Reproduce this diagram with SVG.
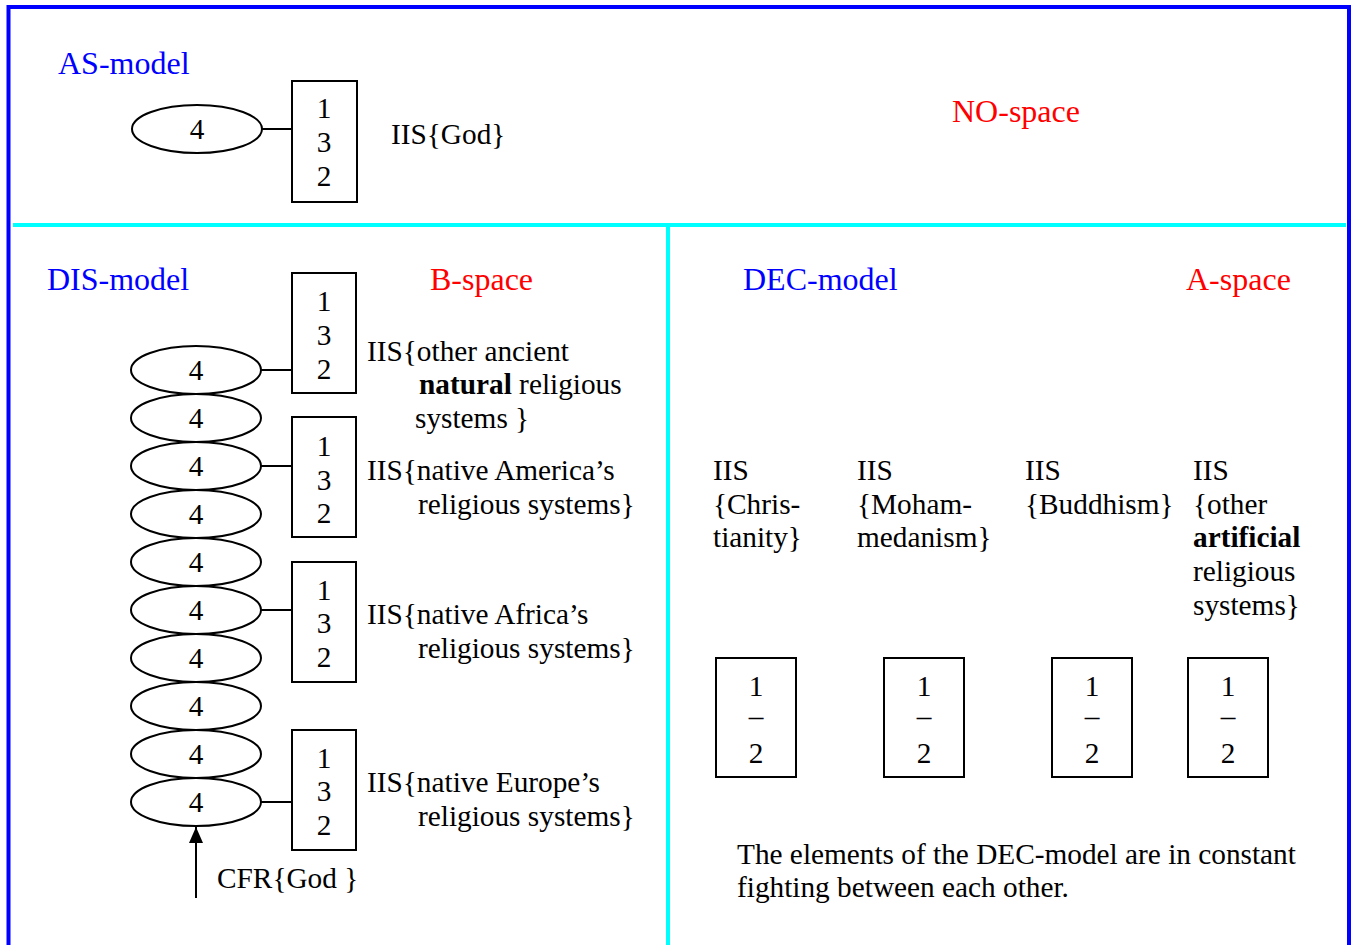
<svg xmlns="http://www.w3.org/2000/svg" width="1353" height="945" viewBox="0 0 1353 945">
<style>
text{font-family:"Liberation Serif","Times New Roman",serif;font-size:29.3px;fill:#000}
.lab{font-size:32px}
.blue{fill:#0000ff}
.red{fill:#ff0000}
.c{text-anchor:middle}
.b{font-weight:bold}
ellipse,rect.n{fill:#fff;stroke:#000;stroke-width:2}
.conn line{stroke:#000;stroke-width:2}
</style>
<defs>
<marker id="ah" viewBox="0 0 16 14" refX="16" refY="7" markerWidth="16" markerHeight="14" markerUnits="userSpaceOnUse" orient="auto">
<path d="M0,0 L16,7 L0,14 Z" fill="#000"/>
</marker>
</defs>
<rect width="1353" height="945" fill="#fff"/>
<g id="frame">
<rect x="8.5" y="7" width="1340.5" height="1000" fill="none" stroke="#0000ff" stroke-width="4"/>
<line x1="13" y1="225" x2="1346" y2="225" stroke="#00ffff" stroke-width="4"/>
<line x1="668" y1="227" x2="668" y2="945" stroke="#00ffff" stroke-width="4"/>
</g>
<g id="labels">
<text class="lab blue" x="58" y="74">AS-model</text>
<text class="lab red" x="952" y="122">NO-space</text>
<text class="lab blue" x="47" y="290">DIS-model</text>
<text class="lab red" x="430" y="290">B-space</text>
<text class="lab blue" x="743" y="290">DEC-model</text>
<text class="lab red" x="1186" y="290">A-space</text>
</g>
<g class="conn" id="connectors">
<line x1="262" y1="129" x2="292" y2="129"/>
<line x1="261" y1="370" x2="292" y2="370"/>
<line x1="261" y1="466" x2="292" y2="466"/>
<line x1="261" y1="610" x2="292" y2="610"/>
<line x1="261" y1="802" x2="292" y2="802"/>
<line x1="196" y1="898" x2="196" y2="827" marker-end="url(#ah)"/>
</g>
<g id="as-ellipse"><ellipse cx="197" cy="129" rx="65" ry="24"/><text class="c" x="197" y="139">4</text></g>
<g id="as-box"><rect class="n" x="292" y="81" width="65" height="121"/><text class="c" x="324" y="118">1</text><text class="c" x="324" y="152">3</text><text class="c" x="324" y="186">2</text></g>
<g id="as-text"><text x="391" y="144">IIS{God}</text></g>
<g id="dis-ellipses">
<g id="e1"><ellipse cx="196" cy="370" rx="65" ry="24"/><text class="c" x="196" y="380">4</text></g>
<g id="e2"><ellipse cx="196" cy="418" rx="65" ry="24"/><text class="c" x="196" y="428">4</text></g>
<g id="e3"><ellipse cx="196" cy="466" rx="65" ry="24"/><text class="c" x="196" y="476">4</text></g>
<g id="e4"><ellipse cx="196" cy="514" rx="65" ry="24"/><text class="c" x="196" y="524">4</text></g>
<g id="e5"><ellipse cx="196" cy="562" rx="65" ry="24"/><text class="c" x="196" y="572">4</text></g>
<g id="e6"><ellipse cx="196" cy="610" rx="65" ry="24"/><text class="c" x="196" y="620">4</text></g>
<g id="e7"><ellipse cx="196" cy="658" rx="65" ry="24"/><text class="c" x="196" y="668">4</text></g>
<g id="e8"><ellipse cx="196" cy="706" rx="65" ry="24"/><text class="c" x="196" y="716">4</text></g>
<g id="e9"><ellipse cx="196" cy="754" rx="65" ry="24"/><text class="c" x="196" y="764">4</text></g>
<g id="e10"><ellipse cx="196" cy="802" rx="65" ry="24"/><text class="c" x="196" y="812">4</text></g>
</g>
<g id="dis-box1"><rect class="n" x="292" y="273" width="64" height="120"/><text class="c" x="324" y="311">1</text><text class="c" x="324" y="345">3</text><text class="c" x="324" y="379">2</text></g>
<g id="dis-box2"><rect class="n" x="292" y="417" width="64" height="120"/><text class="c" x="324" y="456">1</text><text class="c" x="324" y="490">3</text><text class="c" x="324" y="523">2</text></g>
<g id="dis-box3"><rect class="n" x="292" y="562" width="64" height="120"/><text class="c" x="324" y="600">1</text><text class="c" x="324" y="633">3</text><text class="c" x="324" y="667">2</text></g>
<g id="dis-box4"><rect class="n" x="292" y="730" width="64" height="120"/><text class="c" x="324" y="768">1</text><text class="c" x="324" y="801">3</text><text class="c" x="324" y="835">2</text></g>
<g id="dis-text1"><text x="367" y="361">IIS{other ancient</text><text x="419" y="394"><tspan class="b">natural</tspan> religious</text><text x="415" y="428">systems }</text></g>
<g id="dis-text2"><text x="367" y="480">IIS{native America’s</text><text x="418" y="514">religious systems}</text></g>
<g id="dis-text3"><text x="367" y="624">IIS{native Africa’s</text><text x="418" y="658">religious systems}</text></g>
<g id="dis-text4"><text x="367" y="792">IIS{native Europe’s</text><text x="418" y="826">religious systems}</text></g>
<g id="cfr"><text x="217" y="888">CFR{God }</text></g>
<g id="dec-text1"><text x="713" y="480">IIS</text><text x="713" y="514">{Chris-</text><text x="713" y="547">tianity}</text></g>
<g id="dec-text2"><text x="857" y="480">IIS</text><text x="857" y="514">{Moham-</text><text x="857" y="547">medanism}</text></g>
<g id="dec-text3"><text x="1025" y="480">IIS</text><text x="1025" y="514">{Buddhism}</text></g>
<g id="dec-text4"><text x="1193" y="480">IIS</text><text x="1193" y="514">{other</text><text class="b" x="1193" y="547">artificial</text><text x="1193" y="581">religious</text><text x="1193" y="615">systems}</text></g>
<g id="dec-box1"><rect class="n" x="716" y="658" width="80" height="119"/><text class="c" x="756" y="696">1</text><text class="c" x="756" y="726">–</text><text class="c" x="756" y="763">2</text></g>
<g id="dec-box2"><rect class="n" x="884" y="658" width="80" height="119"/><text class="c" x="924" y="696">1</text><text class="c" x="924" y="726">–</text><text class="c" x="924" y="763">2</text></g>
<g id="dec-box3"><rect class="n" x="1052" y="658" width="80" height="119"/><text class="c" x="1092" y="696">1</text><text class="c" x="1092" y="726">–</text><text class="c" x="1092" y="763">2</text></g>
<g id="dec-box4"><rect class="n" x="1188" y="658" width="80" height="119"/><text class="c" x="1228" y="696">1</text><text class="c" x="1228" y="726">–</text><text class="c" x="1228" y="763">2</text></g>
<g id="note"><text x="737" y="864">The elements of the DEC-model are in constant</text><text x="737" y="897">fighting between each other.</text></g>
</svg>
